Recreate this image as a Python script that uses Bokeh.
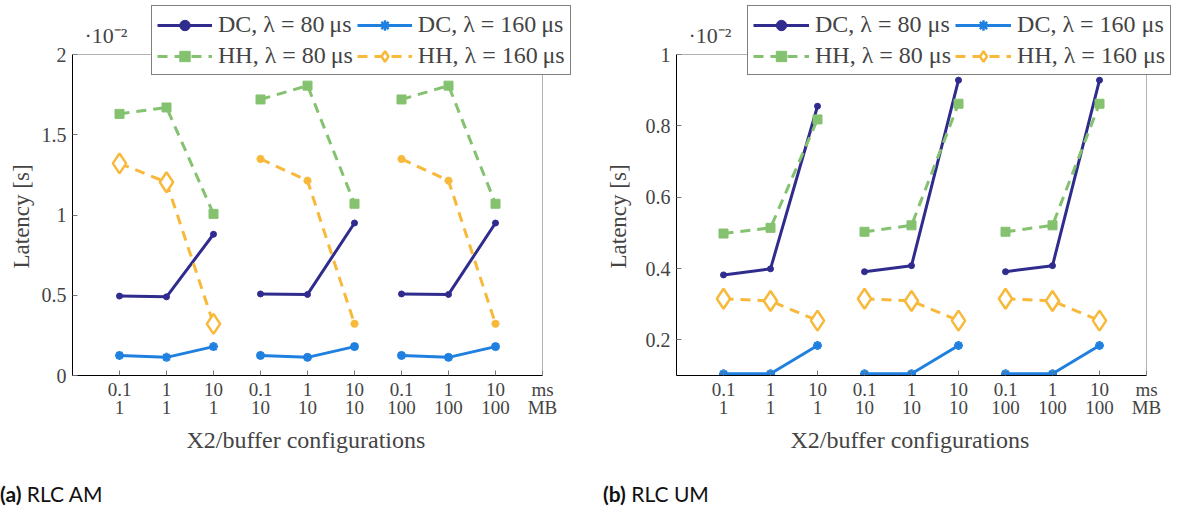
from bokeh.plotting import figure
from bokeh.layouts import row, column
from bokeh.models import (FixedTicker, Legend, LegendItem, Label, LinearAxis,
                          Range1d, BoxAnnotation, Div, Title)
from bokeh.embed import file_html
from bokeh.resources import INLINE

# ---------------- data ----------------
x_pos = [1, 2, 3, 4, 5, 6, 7, 8, 9]
x2_ms = ["0.1", "1", "10", "0.1", "1", "10", "0.1", "1", "10"]
buffer_mb = ["1", "1", "1", "10", "10", "10", "100", "100", "100"]
unit_label = "ms\nMB"

# (a) RLC AM, latency in units of 1e-2 s
am_dc80 = [0.495, 0.490, 0.880, 0.508, 0.505, 0.950, 0.508, 0.505, 0.950]
am_dc160 = [0.125, 0.113, 0.180, 0.125, 0.113, 0.180, 0.125, 0.113, 0.180]
am_hh80 = [1.630, 1.670, 1.007, 1.720, 1.806, 1.070, 1.720, 1.806, 1.070]
am_hh160 = [1.322, 1.204, 0.322, 1.349, 1.214, 0.322, 1.349, 1.214, 0.322]

# (b) RLC UM, latency in units of 1e-2 s
um_dc80 = [0.382, 0.399, 0.855, 0.391, 0.408, 0.928, 0.391, 0.408, 0.928]
um_dc160 = [0.105, 0.105, 0.184, 0.105, 0.105, 0.184, 0.105, 0.105, 0.184]
um_hh80 = [0.498, 0.514, 0.818, 0.503, 0.521, 0.862, 0.503, 0.521, 0.862]
um_hh160 = [0.315, 0.309, 0.254, 0.315, 0.309, 0.254, 0.315, 0.309, 0.254]

am_yticks = [0, 0.5, 1, 1.5, 2]
um_yticks = [0.2, 0.4, 0.6, 0.8, 1.0]

# ---------------- style ----------------
SERIF = "Liberation Serif"
NAVY = "#302c8e"
BLUE = "#1f80e0"
GREEN = "#84c270"
ORANGE = "#f8b93a"
GROUPS = [(0, 3), (3, 6), (6, 9)]

X_MIN, X_MAX = 0, 10
FIG_H = 470
FRAME_BOTTOM = 375   # canvas y of the axis bottom
FRAME_TOP_AXIS = 54  # canvas y of the axis top


def make_panel(width, left, axis_px, frame_right, ymin, ymax, yticks, series,
               legend_x, legend_spaced, ylab_standoff, small_markers):
    frame_w = frame_right - left
    px_per_x = axis_px / (X_MAX - X_MIN)
    x_end = X_MIN + frame_w / px_per_x
    px_per_y = (FRAME_BOTTOM - FRAME_TOP_AXIS) / (ymax - ymin)
    y_end = ymin + FRAME_BOTTOM / px_per_y

    p = figure(width=width, height=FIG_H, x_range=Range1d(X_MIN, x_end),
               y_range=Range1d(ymin, y_end), output_backend="svg",
               toolbar_location=None, min_border_left=left,
               min_border_right=width - frame_right, min_border_top=0,
               min_border_bottom=FIG_H - FRAME_BOTTOM,
               x_axis_type=None, y_axis_type=None)
    p.outline_line_color = None

    xticks = x_pos + [X_MAX]
    xa = LinearAxis(ticker=FixedTicker(ticks=xticks), bounds=(X_MIN, X_MAX))
    ov = {x: f"{a}\n{b}" for x, a, b in zip(x_pos, x2_ms, buffer_mb)}
    ov[X_MAX] = unit_label
    xa.major_label_overrides = ov
    ya = LinearAxis(ticker=FixedTicker(ticks=yticks), bounds=(ymin, ymax))
    ya.major_label_overrides = {t: ("%g" % t) for t in yticks}
    for ax in (xa, ya):
        ax.major_tick_in = 5
        ax.major_tick_out = 0
        ax.minor_tick_line_color = None
        ax.major_tick_line_color = "#777777"
        ax.axis_line_color = "black"
        ax.major_label_text_font = SERIF
    xa.major_label_text_font_size = "19px"
    xa.major_label_text_line_height = 0.9
    xa.major_label_standoff = 3
    ya.major_label_text_font_size = "20px"
    ya.major_label_standoff = 6
    p.add_layout(xa, "below")
    p.add_layout(ya, "left")

    xt = Title(text="X2/buffer configurations", align="left", offset=114,
               text_font=SERIF, text_font_size="24px", text_font_style="normal",
               standoff=6)
    p.add_layout(xt, "below")
    yt = Title(text="Latency [s]", align="left", offset=107,
               text_font=SERIF, text_font_size="23px", text_font_style="normal",
               standoff=ylab_standoff)
    p.add_layout(yt, "left")

    p.xgrid.ticker = FixedTicker(ticks=x_pos)
    p.ygrid.ticker = FixedTicker(ticks=yticks)
    for g in (p.xgrid, p.ygrid):
        g.grid_line_color = "#cfcfcf"
        g.grid_line_width = 1

    dc80, dc160, hh80, hh160 = series
    firsts = []
    specs = [
        (dc80, NAVY, "solid", "circle", 6, NAVY, 1),
        (dc160, BLUE, "solid", "asterisk", 9, BLUE, 2.5),
        (hh80, GREEN, "dashed", "square", 9, GREEN, 1),
        (hh160, ORANGE, "dashed", "diamond", 20, "white", 2.5),
    ]
    for k, (vals, col, dash, mk, sz, fill, mlw) in enumerate(specs):
        first = None
        for gi, (a, b) in enumerate(GROUPS):
            xs = x_pos[a:b]
            ys = vals[a:b]
            ln = p.line(xs, ys, line_color=col, line_width=3,
                        line_dash="10 7" if dash == "dashed" else "solid")
            m, s, f, lw = mk, sz, fill, mlw
            if small_markers and gi > 0:
                if k == 1:
                    m, s, f, lw = "circle", 8, BLUE, 1
                if k == 3:
                    m, s, f, lw = "asterisk", 8, ORANGE, 2.5
            sc = p.scatter(xs, ys, marker=m, size=s, line_color=col,
                           fill_color=f, line_width=lw)
            if first is None:
                first = [ln, sc]
        firsts.append(first)

    # white masks outside the axis box, then the axis box itself
    p.add_layout(BoxAnnotation(bottom=ymax, fill_color="white", fill_alpha=1,
                               line_color=None))
    p.add_layout(BoxAnnotation(left=X_MAX, fill_color="white", fill_alpha=1,
                               line_color=None))
    p.add_layout(BoxAnnotation(left=X_MIN, right=X_MAX, bottom=ymin, top=ymax,
                               fill_color=None, fill_alpha=0,
                               line_color="black", line_width=1))

    p.add_layout(Label(x=12, y=FRAME_BOTTOM - 35, x_units="screen",
                       y_units="screen", text="·10⁻²", text_font=SERIF,
                       text_font_size="22px", text_baseline="middle"))

    sp = " " if legend_spaced else "\u2009"
    labels = [f"DC, λ = 80{sp}μs", f"DC, λ = 160{sp}μs",
              f"HH, λ = 80{sp}μs", f"HH, λ = 160{sp}μs"]
    items = [LegendItem(label=lb, renderers=r) for lb, r in zip(labels, firsts)]
    leg = Legend(items=items, location=(legend_x, FRAME_BOTTOM - 75),
                 orientation="horizontal", ncols=2,
                 label_text_font=SERIF, label_text_font_size="24px",
                 glyph_width=55 if not legend_spaced else 56, glyph_height=26,
                 label_standoff=6, padding=5, spacing=4, margin=0,
                 border_line_color="black", border_line_width=1,
                 background_fill_color="white", background_fill_alpha=1)
    p.add_layout(leg)
    return p


def caption(letter, text, pad_left, width):
    return Div(text=f"<b>{letter}</b> {text}", width=width, height=37, margin=0,
               styles={"font-family": "Lato", "font-size": "21px",
                       "line-height": "21px", "padding-top": "13px",
                       "padding-left": f"{pad_left}px", "color": "#111111",
                       "box-sizing": "border-box"})


p1 = make_panel(591, 72, 470, 578, 0, 2, am_yticks,
                (am_dc80, am_dc160, am_hh80, am_hh160),
                79, False, 10, True)
p2 = make_panel(591, 85, 470, 1181 - 591, 0.1, 1.0, um_yticks,
                (um_dc80, um_dc160, um_hh80, um_hh160),
                71, True, 23, False)

layout = row(column(p1, caption("(a)", "RLC AM", 0, 591)),
             column(p2, caption("(b)", "RLC UM", 12, 591)))
open("out.html", "w").write(file_html(layout, INLINE))
